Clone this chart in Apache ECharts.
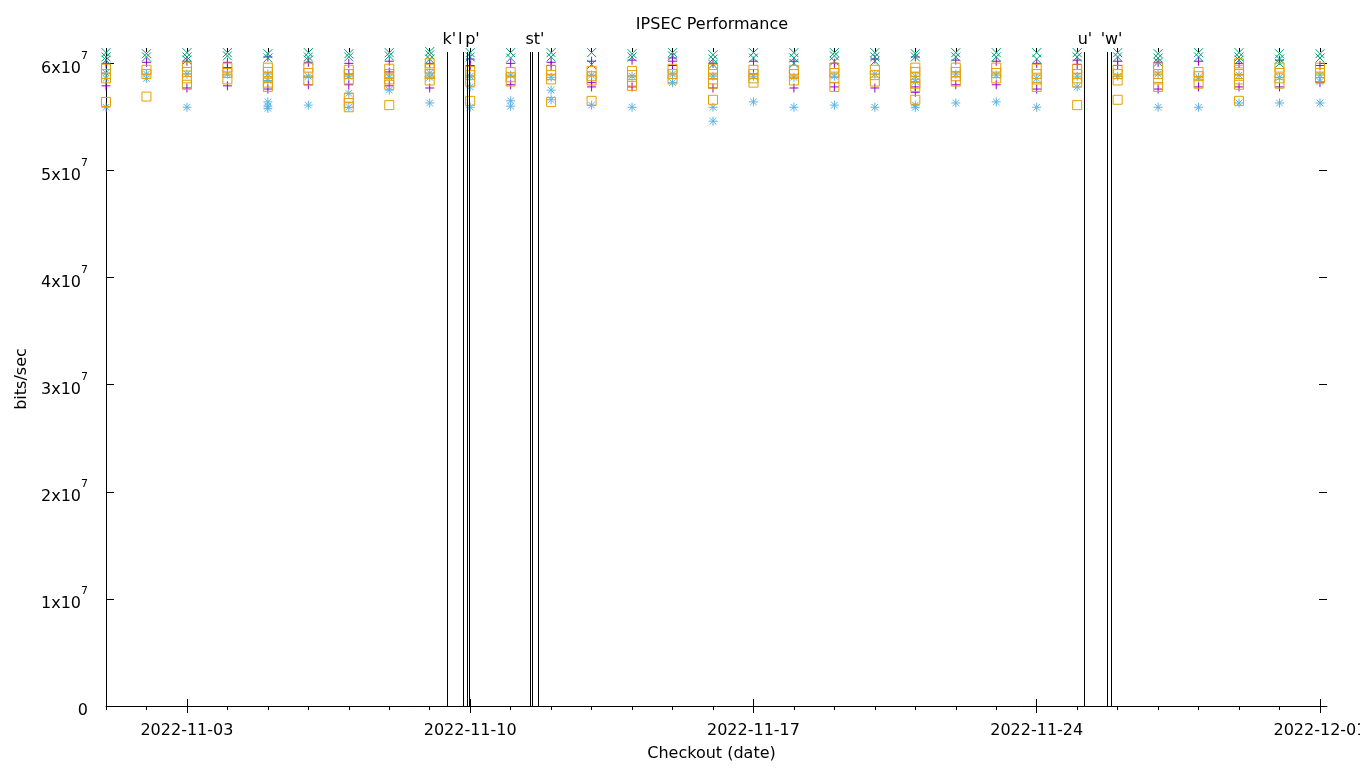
<!DOCTYPE html>
<html><head><meta charset="utf-8">
<script src="https://cdn.jsdelivr.net/npm/echarts@6/dist/echarts.min.js"></script>
<style>html,body{margin:0;padding:0;background:#fff}#c{width:1360px;height:768px}</style>
</head><body><div id="c"></div>
<script>
// ---- data (values in units of 1e6 bits/sec) ----
const days = ['2022-11-01','2022-11-02','2022-11-03','2022-11-04','2022-11-05','2022-11-06','2022-11-07','2022-11-08','2022-11-09','2022-11-10','2022-11-11','2022-11-12','2022-11-13','2022-11-14','2022-11-15','2022-11-16','2022-11-17','2022-11-18','2022-11-19','2022-11-20','2022-11-21','2022-11-22','2022-11-23','2022-11-24','2022-11-25','2022-11-26','2022-11-27','2022-11-28','2022-11-29','2022-11-30','2022-12-01'];
const greenX = [[61.0,60.6,60.3],[60.9,60.6],[61.0,60.6,60.3],[61.0,60.7],[60.9,60.5],[61.0,60.6,60.3],[60.9,60.6],[61.0,60.7],[61.1,60.8,60.4],[61.0,60.6],[61.0,60.5],[61.0,60.6],[61.0,59.9],[60.9,60.6],[61.0,60.7],[60.8,60.4,59.9],[61.0,60.5],[61.0,60.5,60.0],[61.0,60.7,60.2],[61.0,60.6,60.2],[60.9,60.6],[61.0,60.6],[61.0,60.6],[61.0,60.4],[61.0,60.6],[61.0,60.6],[60.9,60.5,60.1],[61.0,60.6],[61.0,60.6,60.3],[60.9,60.4,60.0],[60.9,60.5]];
const purplePlus = [[60.0,57.9],[60.1],[60.2,57.7],[60.1,59.6,57.9],[60.6,57.6],[60.1,58.0],[60.0,59.0,58.0],[60.2,59.2,57.9],[60.0,57.7],[60.4,59.8],[60.0,58.0],[60.1,59.8],[60.2,58.2,57.8],[60.3,57.8],[60.5,60.2,59.8],[60.0,57.7],[60.2,59.0],[60.2,57.7],[60.0,57.8],[60.4,57.7],[60.6,57.8,57.3],[60.3,58.0],[60.2,58.0],[60.0,57.6],[60.3,59.9],[60.2,59.8],[60.1,57.6],[60.2,57.8],[60.0,57.8],[60.3,57.8],[59.8,58.2]];
const orangeSq = [[59.5,59.0,58.6,56.4],[59.4,59.0,56.9],[59.7,59.2,58.6,58.0],[59.6,59.1,58.5],[59.6,59.2,58.7,58.2,57.8],[59.6,59.1,58.4],[59.4,59.0,58.5,56.8,56.3,55.9],[59.5,59.0,58.5,58.0,56.1],[60.0,59.5,59.0,58.4],[59.3,58.9,58.3,56.5],[59.2,58.7,58.3],[59.4,58.9,58.5,56.4],[59.3,58.8,58.4,56.5],[59.3,58.9,58.3,57.9],[59.5,59.0,58.5],[59.5,59.0,58.5,58.1,56.6],[59.4,59.0,58.6,58.2],[59.4,59.0,58.4],[59.6,59.1,58.6,57.8],[59.4,58.9,58.3],[59.6,59.2,58.7,58.1,57.8,56.6],[59.6,59.2,58.8,58.3],[59.6,59.1,58.6],[59.5,59.0,58.5,57.8],[59.5,59.0,58.6,58.2,56.1],[59.4,59.0,58.4,56.6],[59.6,59.0,58.5,57.8],[59.2,58.8,58.1],[60.0,59.4,59.0,58.5,58.0,56.5],[59.6,59.1,58.6,58.1],[59.6,59.1,58.6]];
const blueStar = [[59.1,58.6,55.9],[59.0,58.6],[59.0,55.9],[59.0],[59.0,58.4,56.4,56.0,55.8],[58.8,56.1],[58.8,57.2,55.9],[58.7,57.5],[59.1,58.7,56.3],[58.8,57.8,55.9],[58.9,56.5,56.0],[58.7,57.5,56.6],[58.9,56.1],[58.8,55.9],[59.0,58.2],[58.8,55.9,54.6],[58.8,56.4],[58.7,55.9],[58.8,56.1],[59.0,55.9],[58.8,58.3,55.9,56.1],[59.0,56.3],[58.9,56.4],[58.6,55.9],[58.8,57.8],[58.8],[59.0,55.9],[58.7,55.9],[58.9,56.3],[58.7,56.3],[58.9,58.3,56.3]];
const eventTimes = ['2022-11-09T10:24Z','2022-11-09T19:54Z','2022-11-09T22:17Z','2022-11-09T23:34Z','2022-11-11T11:27Z','2022-11-11T12:38Z','2022-11-11T16:12Z','2022-11-25T04:00Z','2022-11-25T18:03Z','2022-11-25T20:24Z'];
const eventLabels = ["k'", "l", "", "p'", "", "", "st'", "u'", "", "'w'"];
const eventLabelShift = [2, -3, 0, 3, 0, 0, -3, 1, 0, 0];
const xTickLabels = ['2022-11-03','2022-11-10','2022-11-17','2022-11-24','2022-12-01'];
const yTicks = [0, 1e7, 2e7, 3e7, 4e7, 5e7, 6e7];

const FONT = 'DejaVu Sans';
const X0 = Date.parse('2022-11-01T00:00Z');
const XMAX = Date.parse('2022-12-01T04:10Z');
const YMAX = 6.106e7;
const YEVT = 6.106e7;
const majorX = xTickLabels.map(s => Date.parse(s + 'T00:00Z'));
const minorX = days.map(s => Date.parse(s + 'T00:00Z'));

function pts(arr) {
  const out = [];
  arr.forEach((vals, i) => vals.forEach(v => out.push([Date.parse(days[i] + 'T00:00Z'), v * 1e6])));
  return out;
}
function fmtDate(v) {
  const d = new Date(v);
  const p = n => (n < 10 ? '0' : '') + n;
  return d.getUTCFullYear() + '-' + p(d.getUTCMonth() + 1) + '-' + p(d.getUTCDate());
}
const SYM_PLUS = 'path://M0,4.5L9,4.5M4.5,0L4.5,9';
const SYM_X = 'path://M0,0L9,9M9,0L0,9';
const SYM_STAR = 'path://M0,4.5L9,4.5M4.5,0L4.5,9M1.2,1.2L7.8,7.8M7.8,1.2L1.2,7.8';
function sc(name, data, symbol, color, size) {
  return {
    type: 'scatter', name, data: pts(data), symbol, symbolSize: size, clip: false,
    xAxisIndex: 0, yAxisIndex: 0, silent: true, animation: false,
    itemStyle: { color: 'rgba(0,0,0,0)', borderColor: color, borderWidth: 1, opacity: 1 }
  };
}
const hideAxis = { axisLine: { show: false }, axisLabel: { show: false }, splitLine: { show: false } };
const chart = echarts.init(document.getElementById('c'));
chart.setOption({
  animation: false,
  backgroundColor: '#fff',
  textStyle: { fontFamily: FONT },
  grid: { left: 106, right: 33, top: 52, bottom: 62, containLabel: false, outerBoundsMode: 'none' },
  graphic: [
    { type: 'text', x: 712, y: 25, style: { text: 'IPSEC Performance', fontFamily: FONT, fontSize: 16, fill: '#000', align: 'center', verticalAlign: 'middle' } }
  ],
  xAxis: [
    { type: 'value', position: 'bottom', min: X0, max: XMAX,
      name: 'Checkout (date)', nameLocation: 'middle', nameGap: 40,
      nameTextStyle: { fontFamily: FONT, fontSize: 16, color: '#000', padding: [0, 10, 0, 0] },
      axisLine: { show: true, onZero: false, lineStyle: { color: '#000', width: 1 } },
      axisTick: { show: true, inside: false, length: 7, customValues: majorX, lineStyle: { color: '#000' } },
      axisLabel: { show: true, customValues: majorX, formatter: fmtDate, margin: 17, fontFamily: FONT, fontSize: 16, color: '#000' },
      splitLine: { show: false } },
    Object.assign({ type: 'value', position: 'bottom', min: X0, max: XMAX,
      axisTick: { show: true, inside: false, length: 4, customValues: minorX, lineStyle: { color: '#000' } } }, hideAxis),
    Object.assign({ type: 'value', position: 'top', min: X0, max: XMAX,
      axisTick: { show: true, inside: false, length: 7, customValues: majorX, lineStyle: { color: '#000' } } }, hideAxis),
    Object.assign({ type: 'value', position: 'top', min: X0, max: XMAX,
      axisTick: { show: true, inside: false, length: 4, customValues: minorX, lineStyle: { color: '#000' } } }, hideAxis)
  ],
  yAxis: [
    { type: 'value', position: 'left', min: 0, max: YMAX,
      name: 'bits/sec', nameLocation: 'middle', nameGap: 71, nameRotate: 90,
      nameTextStyle: { fontFamily: FONT, fontSize: 16, color: '#000' },
      axisLine: { show: true, onZero: false, lineStyle: { color: '#000', width: 1 } },
      axisTick: { show: true, inside: true, length: 8, customValues: yTicks, lineStyle: { color: '#000' } },
      axisLabel: { show: true, customValues: yTicks, margin: 18, color: '#000',
        formatter: v => v === 0 ? '{b|0}' : '{b|' + Math.round(v / 1e7) + 'x10}{s|7}',
        rich: { b: { fontFamily: FONT, fontSize: 16, lineHeight: 26, verticalAlign: 'bottom', color: '#000' },
                s: { fontFamily: FONT, fontSize: 11, lineHeight: 11, verticalAlign: 'top', color: '#000' } } },
      splitLine: { show: false } },
    Object.assign({ type: 'value', position: 'right', min: 0, max: YMAX,
      axisTick: { show: true, inside: true, length: 8, customValues: yTicks, lineStyle: { color: '#000' } } }, hideAxis)
  ],
  series: [
    sc('purple', purplePlus, SYM_PLUS, '#9400d3', 9),
    sc('green', greenX, SYM_X, '#009e73', 9),
    sc('blue', blueStar, SYM_STAR, '#56b4e9', 9),
    sc('orange', orangeSq, 'rect', '#e69f00', 9),
    { type: 'scatter', name: 'events', data: [], xAxisIndex: 0, yAxisIndex: 0, silent: true,
      markLine: { silent: true, symbol: ['none', 'none'], animation: false,
        lineStyle: { color: '#000', width: 1, type: 'solid' },
        label: { show: true, position: 'end', distance: 4, fontFamily: FONT, fontSize: 16, color: '#000' },
        data: eventTimes.map((t, i) => [
          { coord: [Date.parse(t), 0] },
          { coord: [Date.parse(t), YEVT], label: { show: eventLabels[i] !== '', formatter: eventLabels[i], offset: [eventLabelShift[i], 0] } }
        ]) } }
  ]
});
</script></body></html>
